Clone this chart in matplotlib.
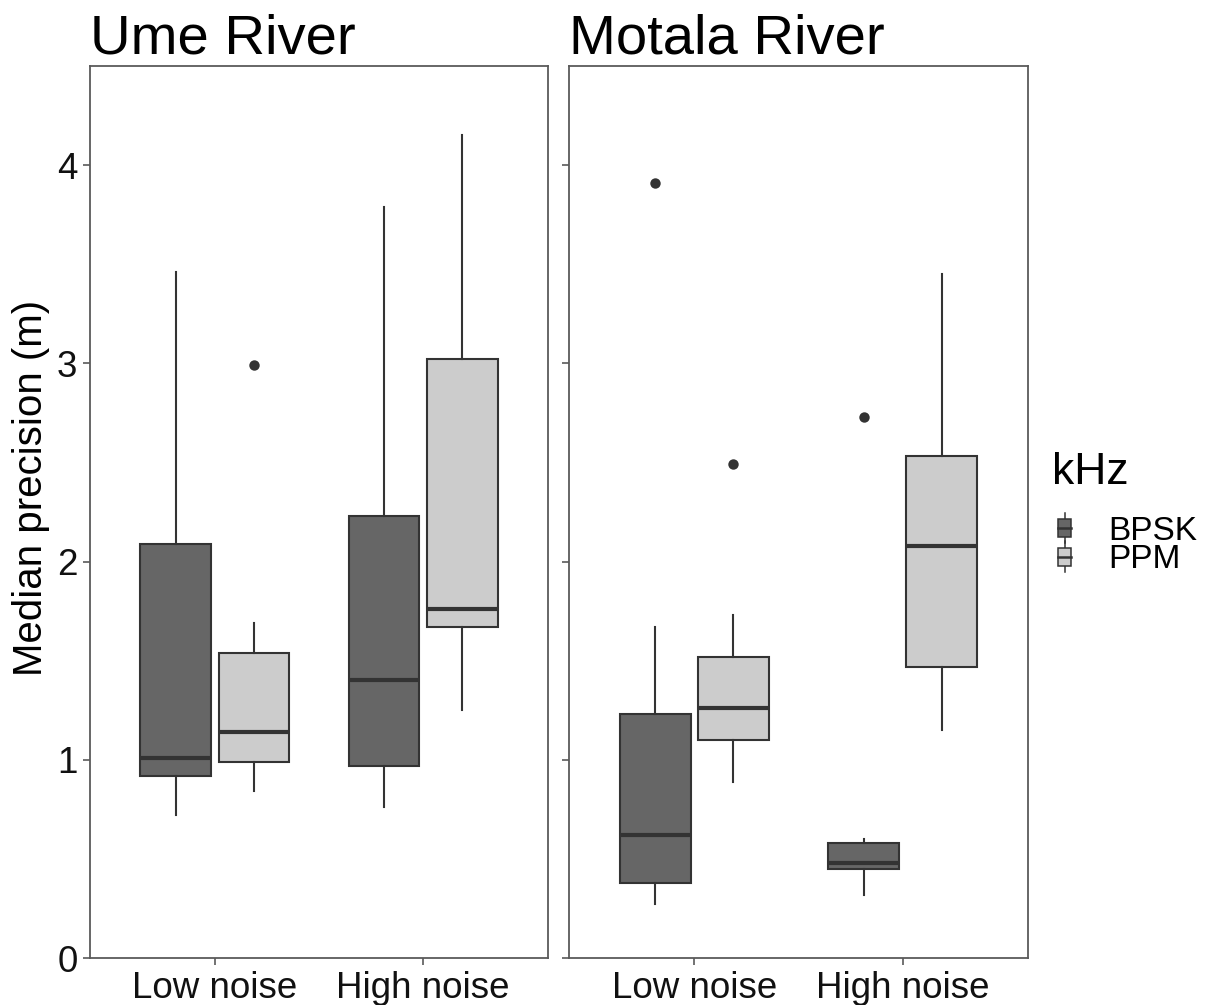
import matplotlib
matplotlib.use("Agg")
import matplotlib.pyplot as plt
from matplotlib.legend_handler import HandlerBase
from matplotlib.patches import Rectangle
from matplotlib.lines import Line2D

plt.rcParams['font.family'] = ['Liberation Sans', 'DejaVu Sans']

# data
rivers = ['Ume River', 'Motala River']
noise_levels = ['Low noise', 'High noise']
modulations = ['BPSK', 'PPM']
fills = ['#666666', '#cccccc']

# box order in each river: Low/BPSK, Low/PPM, High/BPSK, High/PPM
ume_whislo = [0.72, 0.84, 0.76, 1.25]
ume_q1 = [0.92, 0.99, 0.97, 1.67]
ume_med = [1.01, 1.14, 1.40, 1.76]
ume_q3 = [2.09, 1.54, 2.23, 3.02]
ume_whishi = [3.46, 1.69, 3.79, 4.15]
ume_fliers = [[], [2.99], [], []]

mot_whislo = [0.27, 0.89, 0.32, 1.15]
mot_q1 = [0.38, 1.10, 0.45, 1.47]
mot_med = [0.62, 1.26, 0.48, 2.08]
mot_q3 = [1.23, 1.52, 0.58, 2.53]
mot_whishi = [1.67, 1.73, 0.60, 3.45]
mot_fliers = [[3.91], [2.49], [2.73], []]

river_data = [
    (ume_whislo, ume_q1, ume_med, ume_q3, ume_whishi, ume_fliers),
    (mot_whislo, mot_q1, mot_med, mot_q3, mot_whishi, mot_fliers),
]

EDGE = '#333333'
BORDER = '#5a5a5a'


class BoxKey(HandlerBase):
    # small boxplot glyph for the legend keys
    def create_artists(self, legend, orig_handle, xdescent, ydescent,
                       width, height, fontsize, trans):
        x0, y0 = -xdescent, -ydescent
        bw = width * 0.55
        bx = x0 + (width - bw) / 2
        cx = x0 + width / 2
        whisk = Line2D([cx, cx], [y0 - height * 0.1, y0 + height * 1.1],
                       color=EDGE, lw=1.1, transform=trans)
        box = Rectangle((bx, y0 + height * 0.15), bw, height * 0.7,
                        facecolor=orig_handle.get_facecolor(),
                        edgecolor=EDGE, lw=1.1, transform=trans)
        med = Line2D([bx, bx + bw], [y0 + height / 2] * 2,
                     color=EDGE, lw=1.8, transform=trans)
        return [whisk, box, med]


fig = plt.figure(figsize=(12.19, 10.05), dpi=100)
H = 1005.0
W = 1219.0
bottom = 1 - 958 / H
height = (958 - 66) / H
ax1 = fig.add_axes([90 / W, bottom, 458 / W, height])
ax2 = fig.add_axes([569 / W, bottom, 459 / W, height], sharey=ax1)

offsets = [-0.1875, 0.1875]
for ax, river, data in zip([ax1, ax2], rivers, river_data):
    whislo, q1, med, q3, whishi, fliers = data
    stats = []
    positions = []
    colors = []
    for i in range(4):
        cat = i // 2
        grp = i % 2
        stats.append(dict(whislo=whislo[i], q1=q1[i], med=med[i], q3=q3[i],
                          whishi=whishi[i], fliers=fliers[i]))
        positions.append(cat + 1 + offsets[grp])
        colors.append(fills[grp])
    bp = ax.bxp(stats, positions=positions, widths=0.34, patch_artist=True,
                showcaps=False,
                boxprops=dict(edgecolor=EDGE, linewidth=1.5),
                medianprops=dict(color=EDGE, linewidth=3),
                whiskerprops=dict(color=EDGE, linewidth=1.5),
                flierprops=dict(marker='o', markerfacecolor=EDGE,
                                markeredgecolor='none', markersize=7.5))
    for patch, c in zip(bp['boxes'], colors):
        patch.set_facecolor(c)

    ax.set_xlim(0.4, 2.6)
    ax.set_ylim(0, 4.5)
    ax.set_xticks([1, 2])
    ax.set_xticklabels(noise_levels)
    ax.set_yticks([0, 1, 2, 3, 4])
    ax.tick_params(axis='both', colors=BORDER, labelcolor='#111111',
                   length=5, width=1.2, labelsize=26.5, pad=4)
    for sp in ax.spines.values():
        sp.set_color(BORDER)
        sp.set_linewidth(1.3)
    ax.set_title(river, loc='left', fontsize=40.5, pad=8, x=0.0)

ax2.tick_params(axis='y', labelleft=False)
ax1.set_ylabel('Median precision (m)', fontsize=29)
ax1.yaxis.set_label_coords(-0.087, 0.527)

handles = [Rectangle((0, 0), 1, 1, facecolor=c) for c in fills]
leg = fig.legend(handles, modulations, title='kHz',
                 loc='upper left', bbox_to_anchor=(1052 / W, 1 - 452 / H),
                 frameon=False, fontsize=24, title_fontsize=32,
                 handler_map={Rectangle: BoxKey()},
                 handlelength=0.75, handleheight=0.8, handletextpad=0.95,
                 labelspacing=-0.08, borderaxespad=0, borderpad=0)
leg._legend_box.align = 'left'
leg._legend_box.sep = 16

fig.savefig('out.png', dpi=100)
